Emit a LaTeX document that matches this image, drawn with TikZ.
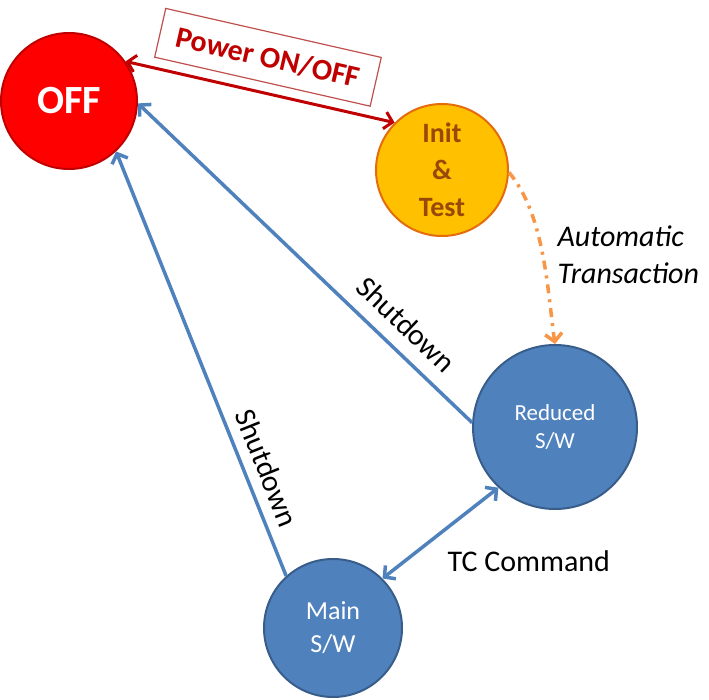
\documentclass[tikz,border=0pt]{standalone}
\usepackage{fontspec}
\setmainfont{Carlito}
\usetikzlibrary{arrows.meta, positioning}
\definecolor{offred}{HTML}{FF0000}
\definecolor{offborder}{HTML}{C00000}
\definecolor{initfill}{HTML}{FFC000}
\definecolor{initborder}{HTML}{E46C0A}
\definecolor{inittext}{HTML}{984807}
\definecolor{swblue}{HTML}{4F81BD}
\definecolor{swborder}{HTML}{385D8A}
\definecolor{autoorange}{HTML}{F79646}
\definecolor{powerred}{HTML}{C00000}
\definecolor{boxred}{HTML}{C0504D}
\tikzset{
    >={Straight Barb[length=8pt, width=17pt]},
    mstate/.style={circle, draw, line width=2pt, inner sep=0pt, align=center},
    offstate/.style={mstate, fill=offred, draw=offborder, text=white,
        minimum size=136pt, font=\fontsize{40}{44}\selectfont\bfseries},
    initstate/.style={mstate, fill=initfill, draw=initborder, text=inittext,
        minimum size=132pt, font=\fontsize{28}{37}\selectfont\bfseries},
    swstate/.style={mstate, fill=swblue, draw=swborder, text=white},
    powerline/.style={draw=powerred, line width=3pt},
    powerbox/.style={draw=boxred, fill=white, line width=1.2pt, text=powerred,
        minimum width=221pt, minimum height=50pt,
        font=\fontsize{30}{36}\selectfont\bfseries},
    swline/.style={draw=swblue, line width=3.5pt},
    autoline/.style={draw=autoorange, line width=3.5pt,
        dash pattern=on 9pt off 6pt on 3pt off 6pt},
    lbl/.style={font=\fontsize{30}{37}\selectfont}
}

\begin{document}
\begin{tikzpicture}[x=1pt, y=-1pt, on grid]
        \useasboundingbox (0,0) rectangle (709,700);

        \node (off) [offstate] at (69,101) {OFF};
        \node (init) [initstate, below right=69pt and 373pt of off] {Init\\\&\\Test};
        \node (red) [swstate, minimum size=164pt, font=\fontsize{23}{28}\selectfont,
            below right=257pt and 113pt of init] {Reduced\\S/W};
        \node (main) [swstate, minimum size=138pt, font=\fontsize{26}{33}\selectfont,
            below left=201pt and 222pt of red] {Main\\S/W};

        \draw[<->, powerline] (off.35) -- node[powerbox, sloped, above=10pt] {Power ON/OFF} (init.135);
        \draw[->, swline] (red.177) -- node[lbl, sloped, above=10pt, pos=0.25] {Shutdown} (off.-2);
        \draw[->, swline] (main.132) -- node[lbl, sloped, above=7pt, pos=0.235] {Shutdown} (off.-47);
        \draw[<->, swline] (main.45) -- node[lbl, below right=12pt and 2pt, pos=0.5] {TC Command} (red.227);
        \draw[->, autoline] (init.-2) to[out=-50, in=98, looseness=0.8]
            node[right=12pt, yshift=-10pt, pos=0.45, align=left,
                font=\fontsize{30}{37}\selectfont\itshape] {Automatic\\Transaction} (red.north);
    \end{tikzpicture}
\end{document}
